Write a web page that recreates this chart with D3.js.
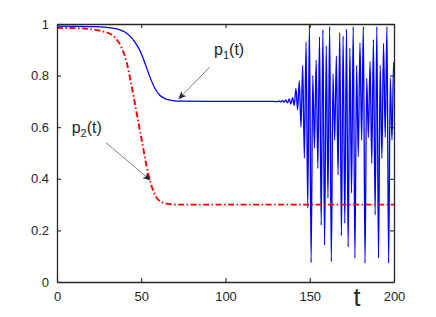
<!DOCTYPE html>
<html>
<head>
<meta charset="utf-8">
<script src="https://cdn.jsdelivr.net/npm/d3@7"></script>
<style>
  body { margin: 0; background: #fff; }
  text { font-family: "Liberation Sans", Arial, sans-serif; fill: #262626; }
</style>
</head>
<body>
<div id="chart"></div>
<script>
const width = 436;
const height = 317;
const margin = { top: 24, right: 42, bottom: 35, left: 57 };

const xTicks = [0, 50, 100, 150, 200];
const yTicks = [0, 0.2, 0.4, 0.6, 0.8, 1];

// p1(t): plateau then oscillation
const p1T = [0, 20, 28, 33, 37, 40, 43, 46, 49, 52, 55, 58, 61, 64, 67, 72, 100, 129,
  130.8, 131.8, 132.8, 133.8, 134.8, 135.8, 136.8, 137.8, 138.8, 139.8,
  140.8, 141.8, 142.8, 143.8, 144.8, 145.8, 146.8, 147.8, 148.8, 149.8,
  150.8, 151.8, 152.8, 153.8, 154.8, 155.8, 156.8, 157.8, 158.8, 159.8,
  160.8, 161.8, 162.8, 163.8, 164.8, 165.8, 166.8, 167.8, 168.8, 169.8,
  170.8, 171.8, 172.8, 173.8, 174.8, 175.8, 176.8, 177.8, 178.8, 179.8,
  180.8, 181.8, 182.8, 183.8, 184.8, 185.8, 186.8, 187.8, 188.8, 189.8,
  190.8, 191.8, 192.8, 193.8, 194.8, 195.8, 196.8, 197.8, 198.8, 199.8, 200];
const p1V = [0.992, 0.99, 0.988, 0.984, 0.978, 0.97, 0.955, 0.932, 0.9, 0.852, 0.797, 0.752, 0.724, 0.711, 0.705, 0.701, 0.70, 0.70,
  0.699, 0.702, 0.698, 0.703, 0.697, 0.706, 0.694, 0.71, 0.69, 0.715,
  0.685, 0.75, 0.667, 0.78, 0.60, 0.84, 0.48, 0.93, 0.287, 1.0,
  0.075, 0.80, 0.52, 0.86, 0.44, 0.95, 0.22, 0.977, 0.143, 0.915,
  0.326, 0.99, 0.079, 0.806, 0.55, 0.876, 0.415, 0.966, 0.18, 0.953,
  0.228, 0.98, 0.136, 0.906, 0.345, 0.99, 0.093, 0.84, 0.486, 0.927,
  0.55, 0.99, 0.073, 0.79, 0.56, 0.854, 0.46, 0.94, 0.26, 0.99,
  0.093, 0.84, 0.48, 0.925, 0.56, 0.99, 0.073, 0.79, 0.55, 0.85, 0.80];

// p2(t)
const p2T = [0, 15, 22, 28, 32, 35, 38, 41, 44, 47, 50, 53, 56, 59, 62, 66, 72, 200];
const p2V = [0.985, 0.983, 0.978, 0.97, 0.96, 0.943, 0.913, 0.86, 0.77, 0.665, 0.56, 0.455, 0.375, 0.328, 0.31, 0.303, 0.30, 0.30];

const svg = d3.select("#chart")
  .append("svg")
  .attr("width", width)
  .attr("height", height);

const x = d3.scaleLinear().domain([0, 200]).range([margin.left, width - margin.right]);
const y = d3.scaleLinear().domain([0, 1]).range([height - margin.bottom, margin.top]);

svg.append("defs").append("clipPath")
  .attr("id", "plot-clip")
  .append("rect")
  .attr("x", margin.left)
  .attr("y", margin.top - 1)
  .attr("width", x(200) - x(0))
  .attr("height", y(0) - y(1) + 2);

const line = d3.line()
  .x(d => x(d[0]))
  .y(d => y(d[1]))
  .curve(d3.curveMonotoneX);

const plot = svg.append("g").attr("clip-path", "url(#plot-clip)");

plot.append("path")
  .datum(p1T.map((t, i) => [t, p1V[i]]))
  .attr("d", line)
  .attr("fill", "none")
  .attr("stroke", "#0000ff")
  .attr("stroke-width", 1.3);

plot.append("path")
  .datum(p2T.map((t, i) => [t, p2V[i]]))
  .attr("d", line)
  .attr("fill", "none")
  .attr("stroke", "#ff0000")
  .attr("stroke-width", 1.9)
  .attr("stroke-dasharray", "6,2.5,1.5,2.5");

// box axes, ticks inside
const axisColor = "#262626";
const tickLen = 4;

const xAxis = svg.append("g")
  .attr("transform", `translate(0,${y(0)})`)
  .call(d3.axisBottom(x).tickValues(xTicks).tickSizeInner(-tickLen).tickSizeOuter(0).tickPadding(10).tickFormat(d3.format("d")));
const yAxis = svg.append("g")
  .attr("transform", `translate(${x(0)},0)`)
  .call(d3.axisLeft(y).tickValues(yTicks).tickSizeInner(-tickLen).tickSizeOuter(0).tickPadding(8).tickFormat(d => d === 0 || d === 1 ? d : d.toFixed(1)));
const xTop = svg.append("g")
  .attr("transform", `translate(0,${y(1)})`)
  .call(d3.axisTop(x).tickValues(xTicks).tickSizeInner(-tickLen).tickSizeOuter(0).tickFormat(""));
const yRight = svg.append("g")
  .attr("transform", `translate(${x(200)},0)`)
  .call(d3.axisRight(y).tickValues(yTicks).tickSizeInner(-tickLen).tickSizeOuter(0).tickFormat(""));

[xAxis, yAxis, xTop, yRight].forEach(g => {
  g.select(".domain").attr("stroke", axisColor).attr("stroke-width", 1.3);
  g.selectAll(".tick line").attr("stroke", axisColor).attr("stroke-width", 1.1);
  g.selectAll(".tick text")
    .style("font-family", "'Liberation Sans', Arial, sans-serif")
    .style("font-size", "13px")
    .attr("fill", axisColor);
});

svg.append("text")
  .attr("x", x(178))
  .attr("y", 306)
  .attr("text-anchor", "middle")
  .style("font-size", "25px")
  .text("t");

// annotations
function label(tx, ty, sub) {
  const t = svg.append("text")
    .attr("x", x(tx))
    .attr("y", y(ty))
    .style("font-size", "16px");
  t.append("tspan").text("p");
  t.append("tspan").attr("dy", 4).style("font-size", "11px").text(sub);
  t.append("tspan").attr("dy", -4).text("(t)");
}

function arrow(t0, v0, t1, v1) {
  const x0 = x(t0), y0 = y(v0), x1 = x(t1), y1 = y(v1);
  const a = Math.atan2(y1 - y0, x1 - x0);
  const L = 8, W = 3.5, back = 6;
  svg.append("line")
    .attr("x1", x0).attr("y1", y0)
    .attr("x2", x1 - Math.cos(a) * back).attr("y2", y1 - Math.sin(a) * back)
    .attr("stroke", "#262626")
    .attr("stroke-width", 0.6);
  const bx = x1 - Math.cos(a) * L, by = y1 - Math.sin(a) * L;
  const nx = x1 - Math.cos(a) * back, ny = y1 - Math.sin(a) * back;
  const px = -Math.sin(a) * W, py = Math.cos(a) * W;
  svg.append("path")
    .attr("d", `M${x1},${y1} L${bx + px},${by + py} L${nx},${ny} L${bx - px},${by - py} Z`)
    .attr("fill", "#262626");
}

label(93.2, 0.88, "1");
arrow(90.8, 0.834, 72, 0.708);
label(8.7, 0.578, "2");
arrow(29.1, 0.54, 55.6, 0.393);
</script>
</body>
</html>
